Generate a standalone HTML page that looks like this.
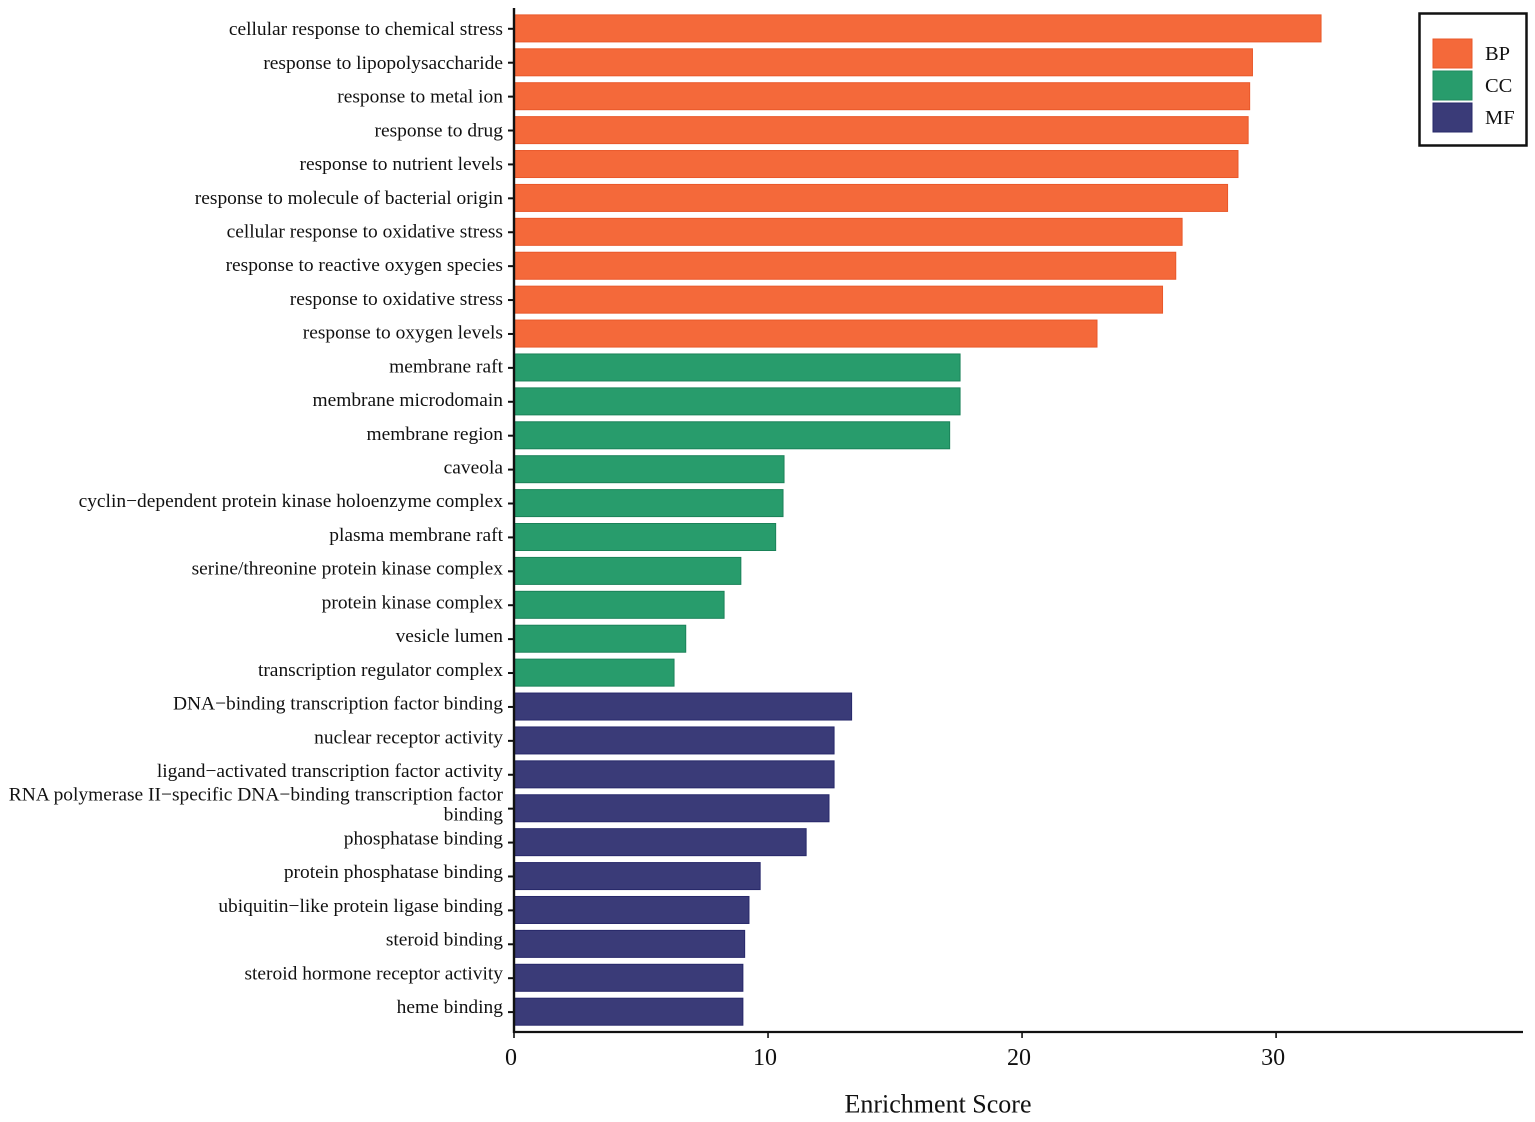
<!DOCTYPE html>
<html lang="en">
<head>
<meta charset="utf-8">
<title>Enrichment Score Bar Chart</title>
<style>
html,body{margin:0;padding:0;background:#fff;}
svg{display:block;font-family:"Liberation Serif",serif;fill:#111;}
</style>
</head>
<body>
<svg id="chart" xmlns="http://www.w3.org/2000/svg" width="1535" height="1122" viewBox="0 0 1535 1122">
<rect x="0" y="0" width="1535" height="1122" fill="#fff"/>
<g id="bars"></g>
<g id="y-axis"></g>
<g id="x-axis"></g>
<text x="938" y="1112.5" text-anchor="middle" font-size="26">Enrichment Score</text>
<g>
<rect x="1419.5" y="13.5" width="107" height="132" fill="#fff" stroke="#111" stroke-width="2.5"/>
<g>
<rect x="1433" y="39" width="39" height="29" fill="#F4693A" stroke="#E9582A" stroke-width="1"/>
<text x="1485" y="60" font-size="20.5">BP</text>
</g>
<g>
<rect x="1433" y="71" width="39" height="29" fill="#289C6C" stroke="#1F8A5E" stroke-width="1"/>
<text x="1485" y="92" font-size="20.5">CC</text>
</g>
<g>
<rect x="1433" y="103" width="39" height="29" fill="#3A3B78" stroke="#27286A" stroke-width="1"/>
<text x="1485" y="124" font-size="20.5">MF</text>
</g>
</g>
</svg>
<script>
const categories = [
  "cellular response to chemical stress",
  "response to lipopolysaccharide",
  "response to metal ion",
  "response to drug",
  "response to nutrient levels",
  "response to molecule of bacterial origin",
  "cellular response to oxidative stress",
  "response to reactive oxygen species",
  "response to oxidative stress",
  "response to oxygen levels",
  "membrane raft",
  "membrane microdomain",
  "membrane region",
  "caveola",
  "cyclin\u2212dependent protein kinase holoenzyme complex",
  "plasma membrane raft",
  "serine/threonine protein kinase complex",
  "protein kinase complex",
  "vesicle lumen",
  "transcription regulator complex",
  "DNA\u2212binding transcription factor binding",
  "nuclear receptor activity",
  "ligand\u2212activated transcription factor activity",
  "RNA polymerase II\u2212specific DNA\u2212binding transcription factor|binding",
  "phosphatase binding",
  "protein phosphatase binding",
  "ubiquitin\u2212like protein ligase binding",
  "steroid binding",
  "steroid hormone receptor activity",
  "heme binding"
];
const scores = [
  31.77, 29.07, 28.96, 28.9, 28.5, 28.09, 26.3, 26.05, 25.53, 22.95,
  17.56, 17.56, 17.15, 10.63, 10.59, 10.3, 8.93, 8.27, 6.76, 6.3,
  13.29, 12.6, 12.6, 12.4, 11.5, 9.69, 9.25, 9.08, 9.01, 9.01
];
const groups = [
  "BP","BP","BP","BP","BP","BP","BP","BP","BP","BP",
  "CC","CC","CC","CC","CC","CC","CC","CC","CC","CC",
  "MF","MF","MF","MF","MF","MF","MF","MF","MF","MF"
];
const xTickValues = [0, 10, 20, 30];

const fills = {BP:"#F4693A", CC:"#289C6C", MF:"#3A3B78"};
const strokes = {BP:"#E9582A", CC:"#1B8259", MF:"#27286A"};
const NS = "http://www.w3.org/2000/svg";
const plotLeft = 514, plotRight = 1523, plotBottom = 1032, plotTop = 8;
const unitsToRight = 39.72;
const firstCenter = 28.4, lastCenter = 1011.7, barH = 27;
const firstBaseline = 35.2, lastBaseline = 1013;

function xScale(v){ return plotLeft + v * (plotRight - plotLeft) / unitsToRight; }
function yScale(i){ return firstCenter + i * (lastCenter - firstCenter) / (categories.length - 1); }
function labelY(i){ return firstBaseline + i * (lastBaseline - firstBaseline) / (categories.length - 1); }
function mk(tag, attrs, parent){
  const el = document.createElementNS(NS, tag);
  for (const k in attrs) el.setAttribute(k, attrs[k]);
  parent.appendChild(el);
  return el;
}
const barsG = document.getElementById("bars");
const yG = document.getElementById("y-axis");
const xG = document.getElementById("x-axis");

categories.forEach(function(name, i){
  const y = yScale(i);
  const bar = mk("rect", {x: plotLeft, y: y - barH / 2, width: xScale(scores[i]) - plotLeft, height: barH,
    fill: fills[groups[i]], stroke: strokes[groups[i]], "stroke-width": 1}, barsG);
  
  

  const tick = mk("line", {x1: 508, x2: plotLeft, y1: y + 0.4, y2: y + 0.4, stroke: "#111", "stroke-width": 2}, yG);
  
  

  const label = mk("text", {"text-anchor": "end", "font-size": 19.45}, yG);
  
  
  const lines = name.split("|");
  lines.forEach(function(line, j){
    const ts = mk("tspan", {x: 503, y: labelY(i) + (lines.length > 1 ? (j === 0 ? -10 : 10) : 0)}, label);
    ts.textContent = line;
  });
});

const yLine = mk("line", {x1: plotLeft, x2: plotLeft, y1: plotTop, y2: plotBottom + 1, stroke: "#111", "stroke-width": 2.4}, yG);



const xLine = mk("line", {x1: plotLeft - 1, x2: plotRight, y1: plotBottom, y2: plotBottom, stroke: "#111", "stroke-width": 2.2}, xG);



xTickValues.forEach(function(v){
  const tx = xScale(v);
  const tick = mk("line", {x1: tx, x2: tx, y1: plotBottom, y2: plotBottom + 6, stroke: "#111", "stroke-width": 1.6}, xG);
  
  
  const label = mk("text", {x: tx - 3, y: 1065, "text-anchor": "middle", "font-size": 24}, xG);
  
  
  label.textContent = v;
});
</script>
</body>
</html>
